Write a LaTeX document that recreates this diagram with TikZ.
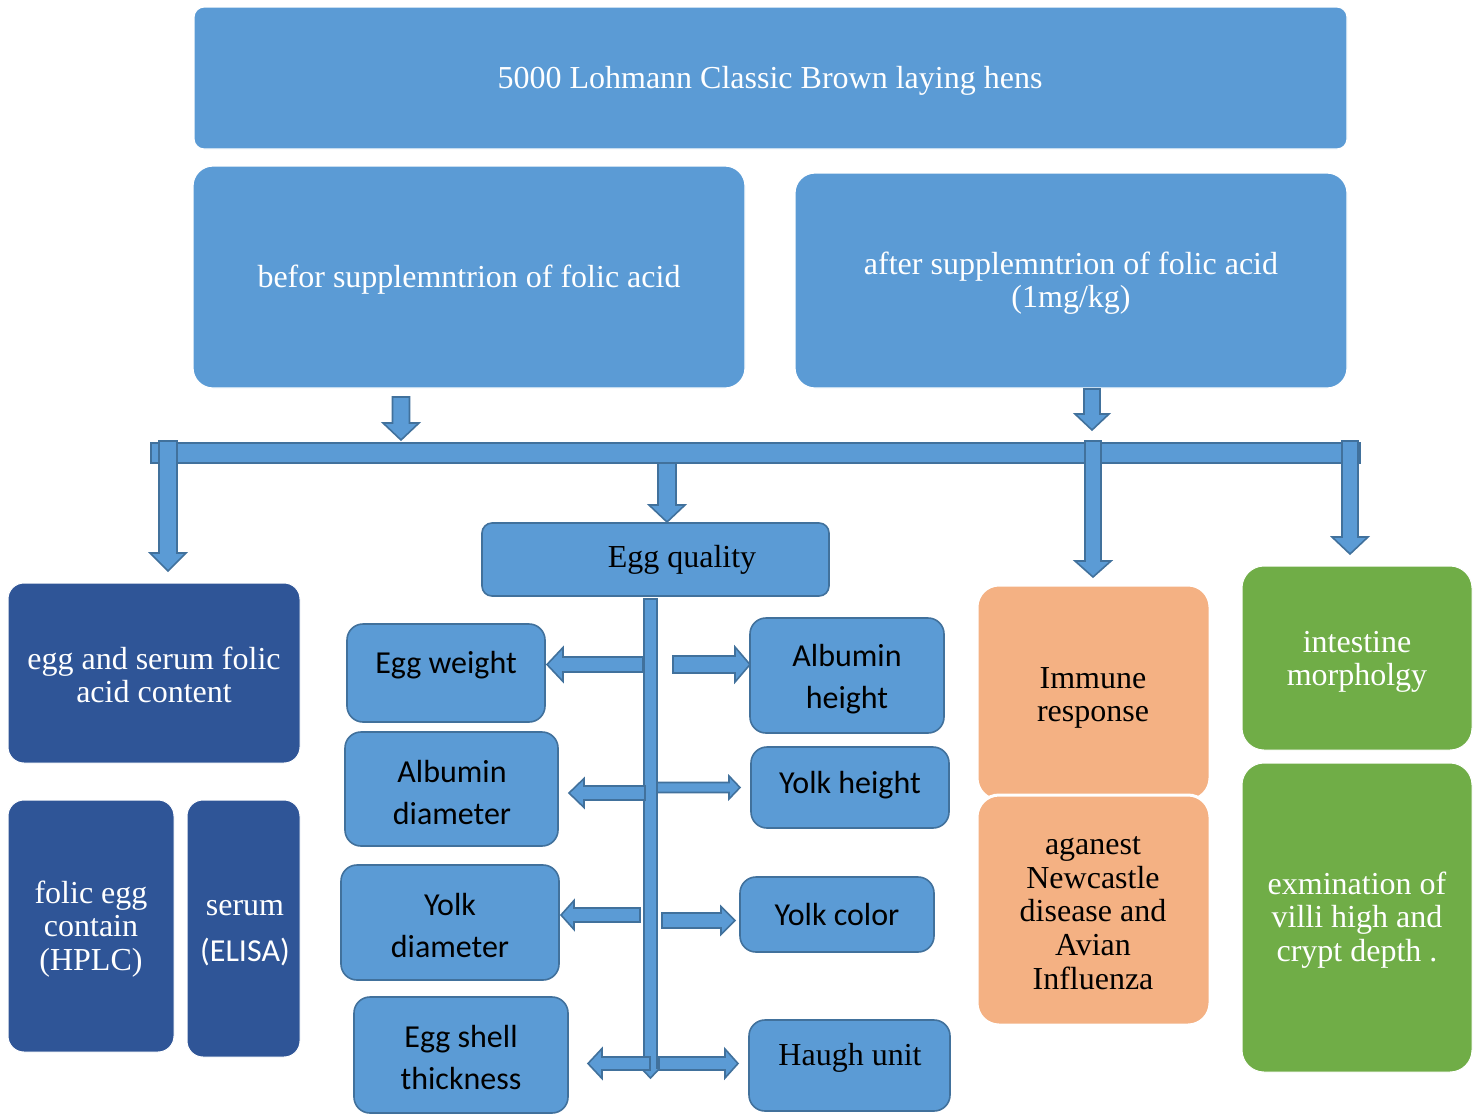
\documentclass[tikz,border=0pt]{standalone}
\usepackage{fontspec}
\setmainfont{Liberation Serif}
\newfontfamily\calfont{Carlito}
\definecolor{cblue}{HTML}{5B9BD5}
\definecolor{cborder}{HTML}{41719C}
\definecolor{cdark}{HTML}{2F5597}
\definecolor{corange}{HTML}{F4B183}
\definecolor{cgreen}{HTML}{70AD47}
\tikzset{
  boxbase/.style={rectangle, inner sep=0pt, outer sep=0pt},
  topbox/.style={boxbase, fill=cblue, draw=white, line width=0.6pt, rounded corners=5pt},
  bigblue/.style={boxbase, fill=cblue, draw=white, line width=0.6pt, rounded corners=10pt},
  eggbox/.style={boxbase, fill=cblue, draw=cborder, line width=0.8pt, rounded corners=8pt},
  qbox/.style={boxbase, fill=cblue, draw=cborder, line width=0.8pt, rounded corners=5pt},
  darkbox/.style={boxbase, fill=cdark, draw=white, line width=0.5pt, rounded corners=8pt},
  orangebox/.style={boxbase, fill=corange, draw=white, line width=1.5pt, rounded corners=11pt},
  greenbox/.style={boxbase, fill=cgreen, draw=white, line width=0.5pt, rounded corners=11pt},
  blk/.style={fill=cblue, draw=cborder, line width=0.8pt, line join=miter},
  serif/.style={inner sep=0pt, align=center, yshift=-1.5pt, font=\fontsize{16}{16.8}\selectfont},
  sans/.style={inner sep=0pt, align=center, yshift=-1.5pt, font=\calfont\fontsize{16}{21}\selectfont},
}
% box: name, x1, y1, x2, y2, style
\newcommand\bx[6]{\node[#6, minimum width={(#4-#2)*0.5pt}, minimum height={(#5-#3)*0.5pt}] (#1) at ({(#2+#4)/2},{(#3+#5)/2}) {};}
% down block arrow: cx, ytop, yheadbase, ytip, halfshaft, halfhead
\newcommand\darr[6]{\filldraw[blk] ({#1-#5},#2) -- ({#1+#5},#2) -- ({#1+#5},#3) -- ({#1+#6},#3) -- (#1,#4) -- ({#1-#6},#3) -- ({#1-#5},#3) -- cycle;}
% horizontal block arrow: xtail, xheadbase, xtip, cy, halfshaft, halfhead
\newcommand\harr[6]{\filldraw[blk] (#1,{#4-#5}) -- (#2,{#4-#5}) -- (#2,{#4-#6}) -- (#3,#4) -- (#2,{#4+#6}) -- (#2,{#4+#5}) -- (#1,{#4+#5}) -- cycle;}
\begin{document}
\begin{tikzpicture}[x=0.5pt,y=-0.5pt]
\useasboundingbox (0,0) rectangle (1478,1115);
\fill[white] (0,0) rectangle (1478,1115);

% top boxes
\bx{top}{194}{7}{1347}{149}{topbox}
\node[serif, text=white] (ttop) at (770,78) {5000 Lohmann Classic Brown laying hens};
\bx{befor}{193}{166}{745}{388}{bigblue}
\node[serif, text=white] (tbefor) at (469,277) {befor supplemntrion of folic acid};
\bx{after}{795}{173}{1347}{388}{bigblue}
\node[serif, text=white] (tafter) at (1071,280) {after supplemntrion of folic acid\\(1mg/kg)};

% horizontal bar and arrows
\filldraw[blk] (151,443) rectangle (1360,463);
\darr{401}{397}{423}{440}{8.5}{18}
\darr{1092}{389}{414}{430}{8}{17}
\darr{168}{441}{553}{571}{9}{18}
\darr{667}{463}{505}{522}{9}{18}
\darr{1093}{441}{561}{577}{8}{18}
\darr{1350}{441}{537}{554}{8}{18}

% egg quality
\bx{eggq}{482}{523}{829}{596}{qbox}
\node[serif] (teggq) at (682,557) {Egg quality};

% central bar
\darr{650.5}{599}{1068}{1078}{6.5}{9.5}
\harr{643}{563}{547}{664.5}{7.5}{17}
\harr{673}{735}{750}{664.5}{8.5}{17.5}
\harr{645}{584}{569}{793}{7}{14.5}
\harr{657}{729}{740}{787.5}{5}{11.5}
\harr{640}{574}{561}{915}{7}{14.5}
\harr{662}{721}{735}{920.5}{7.5}{14}
\harr{650}{602}{588}{1063.5}{6.5}{15}
\harr{659}{725}{738}{1063.5}{6.5}{14.5}

% egg sub boxes
\bx{eggw}{347}{624}{545}{722}{eggbox}
\node[sans] (teggw) at (446,662) {Egg weight};
\bx{albh}{750}{618}{944}{733}{eggbox}
\node[sans] (talbh) at (847,676) {Albumin\\height};
\bx{albd}{345}{732}{558}{846}{eggbox}
\node[sans] (talbd) at (452,789) {Albumin\\diameter};
\bx{yolkh}{751}{747}{949}{828}{eggbox}
\node[sans] (tyolkh) at (850,782) {Yolk height};
\bx{yolkd}{341}{865}{559}{980}{eggbox}
\node[sans] (tyolkd) at (450,922) {Yolk\\diameter};
\bx{yolkc}{740}{877}{934}{952}{eggbox}
\node[sans] (tyolkc) at (837,911) {Yolk color};
\bx{shell}{354}{997}{568}{1113}{eggbox}
\node[sans] (tshell) at (461,1054) {Egg shell\\thickness};
\bx{haugh}{749}{1020}{950}{1111}{eggbox}
\node[serif] (thaugh) at (850,1055) {Haugh unit};

% left column
\bx{folic}{8}{583}{300}{763}{darkbox}
\node[serif, text=white] (tfolic) at (154,672) {egg and serum folic\\acid content};
\bx{hplc}{8}{800}{174}{1052}{darkbox}
\node[serif, text=white] (thplc) at (91,926) {folic egg\\contain\\(HPLC)};
\bx{elisa}{187}{800}{300}{1057}{darkbox}
\node[serif, text=white] (telisa) at (245,930) {serum\\[6pt]{\calfont (ELISA)}};

% right columns
\bx{immune}{977}{585}{1210}{800}{orangebox}
\node[serif] (timmune) at (1093,695) {Immune\\response};
\bx{aganest}{977}{795}{1210}{1025}{orangebox}
\node[serif] (taganest) at (1093,910) {aganest\\Newcastle\\disease and\\Avian\\Influenza};
\bx{intest}{1242}{566}{1472}{750}{greenbox}
\node[serif, text=white] (tintest) at (1357,659) {intestine\\morpholgy};
\bx{exam}{1242}{763}{1472}{1072}{greenbox}
\node[serif, text=white] (texam) at (1357,917) {exmination of\\villi high and\\crypt depth .};
\end{tikzpicture}
\end{document}
